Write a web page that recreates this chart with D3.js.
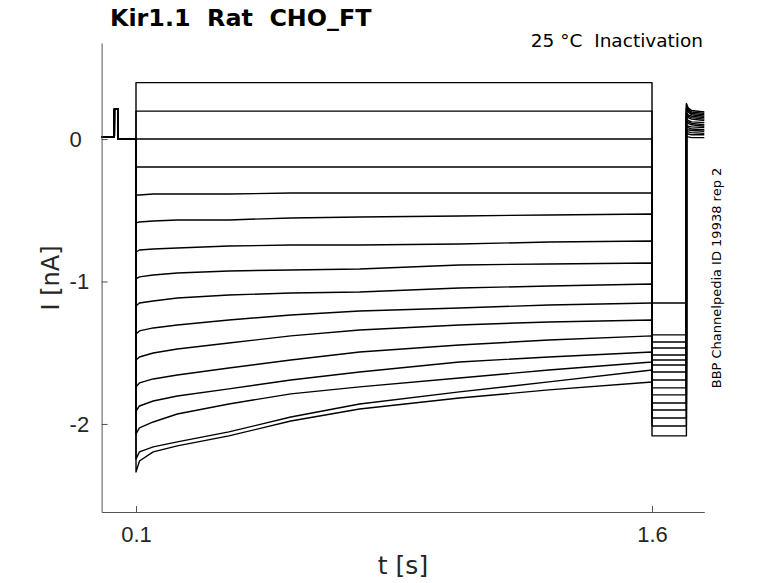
<!DOCTYPE html>
<html>
<head>
<meta charset="utf-8">
<script src="https://cdn.jsdelivr.net/npm/d3@7"></script>
<style>
  html, body { margin: 0; padding: 0; background: #fff; }
  svg { display: block; font-family: "DejaVu Sans", sans-serif; }
</style>
</head>
<body>
<div id="chart"></div>
<script>
// ---- data (t in s, I in nA) ----
const X_TICKS = [0.1, 1.6];
const Y_TICKS = [-2, -1, 0];

// holding level with the short test blip before the step
const T_HOLD = [0, 0.037, 0.0372, 0.048, 0.0482, 0.1];
const I_HOLD = [0.015, 0.015, 0.21, 0.21, 0, 0];

// conditioning step, one row per sweep (top to bottom)
const T_STEP = [0.1, 0.11, 0.15, 0.22, 0.37, 0.55, 0.75, 1.04, 1.3, 1.6];
const I_STEP = [
  [0.396, 0.396, 0.396, 0.396, 0.396, 0.396, 0.396, 0.396, 0.396, 0.396],
  [0.196, 0.196, 0.196, 0.196, 0.196, 0.196, 0.196, 0.196, 0.196, 0.196],
  [0, 0, 0, 0, 0, 0, 0, 0, 0, 0],
  [-0.196, -0.196, -0.196, -0.196, -0.196, -0.196, -0.196, -0.196, -0.196, -0.196],
  [-0.393, -0.393, -0.386, -0.386, -0.386, -0.379, -0.379, -0.379, -0.379, -0.379],
  [-0.589, -0.582, -0.575, -0.568, -0.568, -0.554, -0.547, -0.540, -0.533, -0.526],
  [-0.793, -0.779, -0.772, -0.765, -0.751, -0.744, -0.744, -0.737, -0.723, -0.716],
  [-0.982, -0.968, -0.954, -0.940, -0.926, -0.919, -0.912, -0.884, -0.877, -0.870],
  [-1.172, -1.151, -1.137, -1.116, -1.095, -1.081, -1.074, -1.046, -1.032, -1.018],
  [-1.368, -1.347, -1.326, -1.305, -1.270, -1.235, -1.207, -1.186, -1.165, -1.151],
  [-1.551, -1.530, -1.502, -1.474, -1.432, -1.382, -1.340, -1.305, -1.284, -1.270],
  [-1.740, -1.712, -1.684, -1.656, -1.607, -1.551, -1.495, -1.446, -1.411, -1.382],
  [-1.909, -1.874, -1.839, -1.804, -1.754, -1.691, -1.635, -1.565, -1.530, -1.495],
  [-2.070, -2.028, -1.986, -1.930, -1.860, -1.789, -1.740, -1.677, -1.621, -1.565],
  [-2.246, -2.196, -2.161, -2.126, -2.056, -1.951, -1.860, -1.775, -1.705, -1.621],
  [-2.337, -2.260, -2.196, -2.154, -2.084, -1.979, -1.895, -1.818, -1.761, -1.705]
];

// test pulse level, same sweep order
const T_TEST = [1.6, 1.7];
const I_TEST = [-2.084, -2.014, -1.958, -1.902, -1.853, -1.796, -1.747, -1.691,
                -1.635, -1.151, -1.586, -1.551, -1.516, -1.467, -1.425, -1.375];

// tail after the test pulse
const T_TAIL = [1.7, 1.705, 1.715, 1.752];
const I_TAIL = [
  [0.25, 0.22, 0.20, 0.19],
  [0.24, 0.21, 0.19, 0.18],
  [0.22, 0.20, 0.18, 0.17],
  [0.21, 0.19, 0.17, 0.16],
  [0.19, 0.17, 0.16, 0.15],
  [0.18, 0.16, 0.15, 0.14],
  [0.16, 0.15, 0.14, 0.13],
  [0.15, 0.13, 0.12, 0.115],
  [0.13, 0.12, 0.11, 0.10],
  [0.12, 0.11, 0.10, 0.09],
  [0.10, 0.09, 0.085, 0.08],
  [0.09, 0.08, 0.07, 0.065],
  [0.07, 0.065, 0.06, 0.055],
  [0.06, 0.05, 0.045, 0.04],
  [0.04, 0.035, 0.03, 0.03],
  [0.02, 0.015, 0.01, 0.01]
];

// ==================================================
// layout
// ==================================================
const width = 778, height = 583;
const plot = { left: 101.6, right: 704.3, top: 43, bottom: 512 };
const axisColor = "#555";
const textColor = "#262626";

const svg = d3.select("#chart").append("svg")
  .attr("width", width)
  .attr("height", height);

const x = d3.scaleLinear().domain([0, 1.752]).range([plot.left, plot.right]);
const y = d3.scaleLinear().domain([-2.618, 0.674]).range([plot.bottom, plot.top]);

// build every sweep from its segments
const sweeps = I_STEP.map((row, i) => {
  const pts = [];
  T_HOLD.forEach((t, k) => pts.push([t, I_HOLD[k]]));
  T_STEP.forEach((t, k) => pts.push([t, row[k]]));
  T_TEST.forEach(t => pts.push([t, I_TEST[i]]));
  T_TAIL.forEach((t, k) => pts.push([t, I_TAIL[i][k]]));
  return pts;
});

const line = d3.line()
  .x(p => x(p[0]))
  .y(p => y(p[1]));

svg.append("g")
  .selectAll("path")
  .data(sweeps)
  .join("path")
  .attr("d", line)
  .attr("fill", "none")
  .attr("stroke", "#000")
  .attr("stroke-width", 1.4)
  .attr("stroke-linejoin", "round");

// ==================================================
// axes (MATLAB style, inward ticks, no box)
// ==================================================
const xAxis = d3.axisBottom(x)
  .tickValues(X_TICKS)
  .tickFormat(d => String(d))
  .tickSizeInner(-6)
  .tickSizeOuter(0);

const xAxisG = svg.append("g")
  .attr("transform", `translate(0,${plot.bottom})`)
  .call(xAxis);
xAxisG.select(".domain").attr("stroke", axisColor);
xAxisG.selectAll(".tick line").attr("stroke", axisColor);
xAxisG.selectAll(".tick text")
  .attr("y", 22)
  .attr("dy", "0.35em")
  .attr("fill", textColor)
  .style("font-size", "22px");

const yAxis = d3.axisLeft(y)
  .tickValues(Y_TICKS)
  .tickFormat(d => String(d))
  .tickSizeInner(-6)
  .tickSizeOuter(0);

const yAxisG = svg.append("g")
  .attr("transform", `translate(${plot.left},0)`)
  .call(yAxis);
yAxisG.select(".domain").attr("stroke", axisColor);
yAxisG.selectAll(".tick line").attr("stroke", axisColor);
// labels share a left edge in the reference
yAxisG.selectAll(".tick text")
  .attr("x", -32)
  .attr("text-anchor", "start")
  .attr("fill", textColor)
  .style("font-size", "22px");

// ==================================================
// labels
// ==================================================
svg.append("text")
  .attr("x", 403)
  .attr("y", 574)
  .attr("text-anchor", "middle")
  .attr("fill", textColor)
  .style("font-size", "25px")
  .text("t [s]");

svg.append("text")
  .attr("transform", "translate(59,278) rotate(-90)")
  .attr("text-anchor", "middle")
  .attr("fill", textColor)
  .style("font-size", "24px")
  .text("I [nA]");

svg.append("text")
  .attr("x", 110)
  .attr("y", 26)
  .attr("fill", "#000")
  .style("font-size", "23.8px")
  .style("font-weight", "bold")
  .style("white-space", "pre")
  .text("Kir1.1  Rat  CHO_FT");

svg.append("text")
  .attr("x", 703)
  .attr("y", 47)
  .attr("text-anchor", "end")
  .attr("fill", "#000")
  .style("font-size", "18.5px")
  .style("white-space", "pre")
  .text("25 °C  Inactivation");

svg.append("text")
  .attr("transform", "translate(721,278) rotate(-90)")
  .attr("text-anchor", "middle")
  .attr("fill", "#000")
  .style("font-size", "13px")
  .text("BBP Channelpedia ID 19938 rep 2");
</script>
</body>
</html>
